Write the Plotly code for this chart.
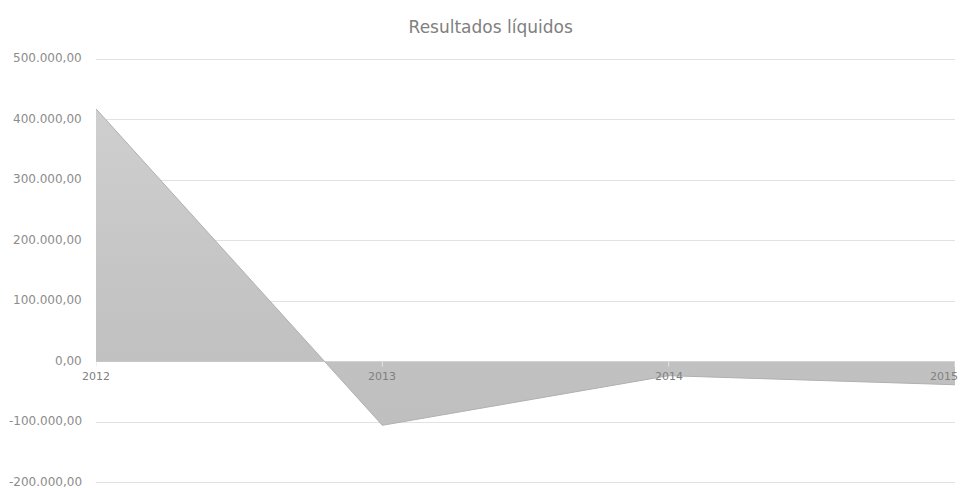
import plotly.graph_objects as go

# Net results per year
years = ["2012", "2013", "2014", "2015"]
resultados = [418000, -105000, -23000, -38000]

y_ticks = [-200000, -100000, 0, 100000, 200000, 300000, 400000, 500000]
y_range = [-202000, 502000]

font_family = "DejaVu Sans, Noto Sans, sans-serif"
text_color = "#8c8c8c"
grid_color = "#e2e2e2"


def fmt_pt(v):
    """Portuguese number format: 500.000,00"""
    s = f"{abs(v):,.2f}".replace(",", "X").replace(".", ",").replace("X", ".")
    return ("-" if v < 0 else "") + s


fig = go.Figure()

fig.add_trace(go.Scatter(
    x=years,
    y=resultados,
    mode="lines",
    fill="tozeroy",
    line=dict(color="#b0b0b0", width=1),
    fillgradient=dict(
        type="vertical",
        colorscale=[[0, "#bfbfbf"], [0.3, "#c2c2c2"], [1, "#cfcfcf"]],
    ),
    hoverinfo="x+y",
    showlegend=False,
))

# Category ticks and year labels along the zero line
for i, yr in enumerate(years):
    last = i == len(years) - 1
    fig.add_shape(
        type="line", xref="x", yref="y",
        x0=i, x1=i, y0=0, y1=-5,
        ysizemode="pixel", yanchor=0,
        line=dict(color="#e4e4e4", width=1),
        layer="above",
    )
    fig.add_annotation(
        x=i, y=0, xref="x", yref="y",
        text=yr, showarrow=False,
        xanchor="right" if last else "center",
        xshift=5 if last else 0,
        yanchor="top", yshift=-6,
        font=dict(family=font_family, size=11, color="#808080"),
    )

# Value labels on the left, one per gridline
for v in y_ticks:
    fig.add_annotation(
        x=0, y=v, xref="paper", yref="y",
        text=fmt_pt(v), showarrow=False,
        xanchor="right", xshift=-12,
        yanchor="middle", yshift=1,
        font=dict(family=font_family, size=12, color=text_color),
    )

fig.update_layout(
    width=964, height=488,
    margin=dict(l=96, r=9, t=58, b=4),
    paper_bgcolor="white",
    plot_bgcolor="white",
    title=dict(
        text="Resultados líquidos",
        x=0.509, xanchor="center",
        y=0.945, yanchor="middle",
        font=dict(family=font_family, size=17, color="#808080"),
    ),
    xaxis=dict(
        type="category",
        range=[0, len(years) - 1],
        showticklabels=False,
        showgrid=False,
        showline=False,
        ticks="",
        zeroline=False,
    ),
    yaxis=dict(
        range=y_range,
        tickvals=y_ticks,
        showticklabels=False,
        automargin=False,
        showgrid=True,
        gridcolor=grid_color,
        gridwidth=1,
        zeroline=True,
        zerolinecolor="#d8d8d8",
        zerolinewidth=1,
        showline=False,
        ticks="",
    ),
)

fig.write_html("out.html")
